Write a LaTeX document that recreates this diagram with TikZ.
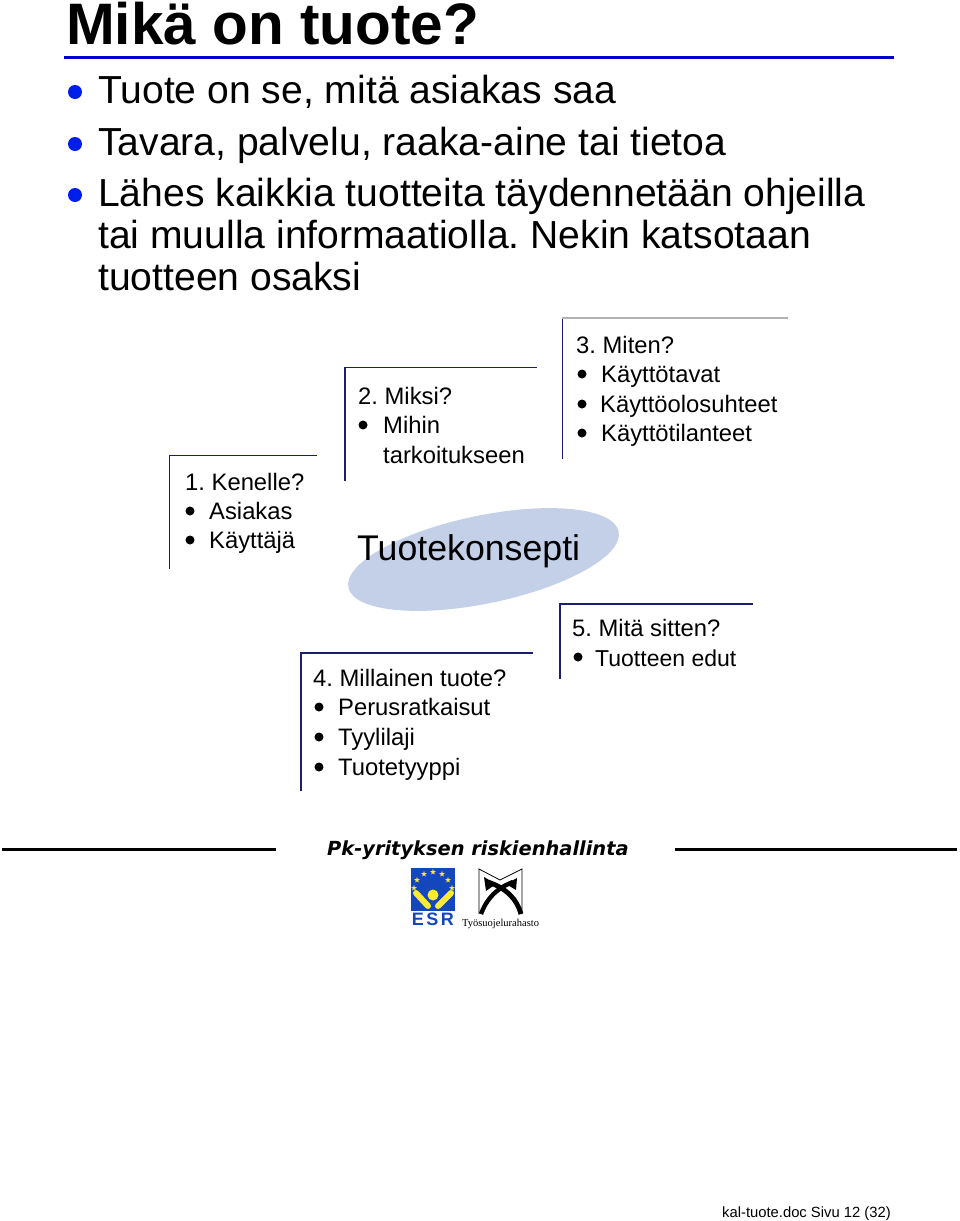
\documentclass[tikz,border=0pt]{standalone}
\usepackage{fontspec}
\setmainfont{Liberation Sans}
\usetikzlibrary{shapes.geometric}
\definecolor{ruleblue}{RGB}{0,0,205}
\definecolor{bulblue}{RGB}{0,30,235}
\definecolor{boxnavy}{RGB}{25,30,110}
\definecolor{ell}{RGB}{196,208,232}
\definecolor{esrblue}{RGB}{20,70,190}
\definecolor{esryel}{RGB}{250,235,50}
\frenchspacing
\tikzset{
 x=1pt,y=-1pt,
 title/.style={anchor=base west,inner sep=0,font=\fontsize{58.5}{61}\selectfont\bfseries},
 body/.style={anchor=base west,inner sep=0,font=\fontsize{39.1}{40}\selectfont},
 small/.style={anchor=base west,inner sep=0,yshift=0.8pt,font=\fontsize{23.8}{28}\selectfont},
 bul/.style={circle,fill=bulblue,inner sep=0,minimum size=14pt},
 sbul/.style={circle,fill=black,inner sep=0,minimum size=9pt},
 corner/.style={draw=boxnavy,line width=1.9pt,line join=miter},
 foot/.style={draw=black,line width=2.2pt},
}
\begin{document}
\begin{tikzpicture}
\useasboundingbox (0,0) rectangle (960,1221);
\node[title] (t) at (66,44) {Mikä on tuote?};
\coordinate (ra) at (64,57.5); \coordinate (rb) at (894,57.5);
\draw[ruleblue,line width=3.6pt] (ra) -- (rb);
\node[bul] (b1) at (75,92) {}; \node[body] (l1) at (98,103) {Tuote on se, mitä asiakas saa};
\node[bul] (b2) at (75,144) {}; \node[body] (l2) at (98,155) {Tavara, palvelu, raaka-aine tai tietoa};
\node[bul] (b3) at (75,195) {}; \node[body] (l3) at (98,206) {Lähes kaikkia tuotteita täydennetään ohjeilla};
\node[body] (l4) at (98,248) {tai muulla informaatiolla. Nekin katsotaan};
\node[body] (l5) at (98,290) {tuotteen osaksi};

% ellipse
\node[ellipse,fill=ell,minimum width=276pt,minimum height=88pt,inner sep=0,rotate=11.7] (e) at (483.5,559.5) {};
\node[anchor=base west,inner sep=0,font=\fontsize{35.7}{40}\selectfont] (k) at (357,560) {Tuotekonsepti};

% box 1
\draw[corner] (169.5,569) -- (169.5,455.5) -- (317,455.5);
\node[small] (a1) at (185,491) {1. Kenelle?};
\node[sbul] (a2b) at (190,511) {}; \node[small] (a2) at (209,520) {Asiakas};
\node[sbul] (a3b) at (190,540) {}; \node[small] (a3) at (209,549) {Käyttäjä};
% box 2
\draw[corner] (345,481) -- (345,367.5) -- (537,367.5);
\node[small] (c1) at (358,405) {2. Miksi?};
\node[sbul] (c2b) at (363,425) {}; \node[small] (c2) at (383,434) {Mihin};
\node[small] (c3) at (383,464) {tarkoitukseen};
% box 3
\draw[corner] (562.5,459) -- (562.5,318);
\draw[draw=gray!60,line width=1.7pt] (562,318) -- (788,318);
\node[small] (d1) at (576,354) {3. Miten?};
\node[sbul] (d2b) at (582,374) {}; \node[small] (d2) at (601,383) {Käyttötavat};
\node[sbul] (d3b) at (582,404) {}; \node[small] (d3) at (600,413) {Käyttöolosuhteet};
\node[sbul] (d4b) at (582,433) {}; \node[small] (d4) at (601,442) {Käyttötilanteet};
% box 4
\draw[corner] (301,791) -- (301,653) -- (533,653);
\node[small] (f1) at (313,687) {4. Millainen tuote?};
\node[sbul] (f2b) at (319,707) {}; \node[small] (f2) at (338,716) {Perusratkaisut};
\node[sbul] (f3b) at (319,737) {}; \node[small] (f3) at (338,746) {Tyylilaji};
\node[sbul] (f4b) at (319,767) {}; \node[small] (f4) at (338,776) {Tuotetyyppi};
% box 5
\draw[corner] (560,679) -- (560,604) -- (753,604);
\node[small] (g1) at (572,637) {5. Mitä sitten?};
\node[sbul] (g2b) at (578,657) {}; \node[small,font=\fontsize{23}{28}\selectfont] (g2) at (595,667) {Tuotteen edut};

% footer band
\draw[foot] (2,849.5) -- (276,849.5);
\draw[foot] (675,849.5) -- (957,849.5);
\node[anchor=base west,inner sep=0,font=\fontsize{19.4}{24}\selectfont\fontspec{DejaVu Sans}\bfseries\itshape] (pk) at (327,855) {Pk-yrityksen riskienhallinta};

% ESR logo
\fill[esrblue] (411,868) rectangle (455,911);
\foreach \sx/\sy in {433/872,424/874,442/874,417/880,448/880,414/888,452/888}{
 \node[star,star points=5,star point ratio=2.4,fill=esryel,inner sep=0,minimum size=6pt] at (\sx,\sy) {};}
\fill[esryel] (433,895) circle (5.5);
\draw[esryel,line width=6pt,line cap=round] (416,893) -- (428,906);
\draw[esryel,line width=6pt,line cap=round] (451,893) -- (438,906);
\node[anchor=base,inner sep=0,text=esrblue,font=\fontsize{18}{18}\selectfont\bfseries] (esr) at (433,925) {E\kern2.5pt S\kern2.5pt R};

% Tyosuojelurahasto logo
\draw[black,line width=.8pt] (479,914) -- (479,869) -- (500,880) -- (522,869) -- (522,914);
\draw[black,line width=4.4pt] (481,914) .. controls (487,898) and (497,888) .. (513,882);
\draw[black,line width=4.8pt] (521,914) .. controls (517,899) and (506,888) .. (488,882);
\fill[black] (484,877) -- (496,884) -- (486,891) -- cycle;
\fill[black] (517,878) -- (506,884) -- (516,890) -- cycle;
\node[anchor=base west,inner sep=0,font=\fontsize{10.5}{11}\selectfont\fontspec{Liberation Serif}] (ty) at (462,926) {Työsuojelurahasto};

\node[anchor=base east,inner sep=0,font=\fontsize{14.8}{18}\selectfont] (pg) at (891,1217) {kal-tuote.doc Sivu 12 (32)};
\end{tikzpicture}
\end{document}
